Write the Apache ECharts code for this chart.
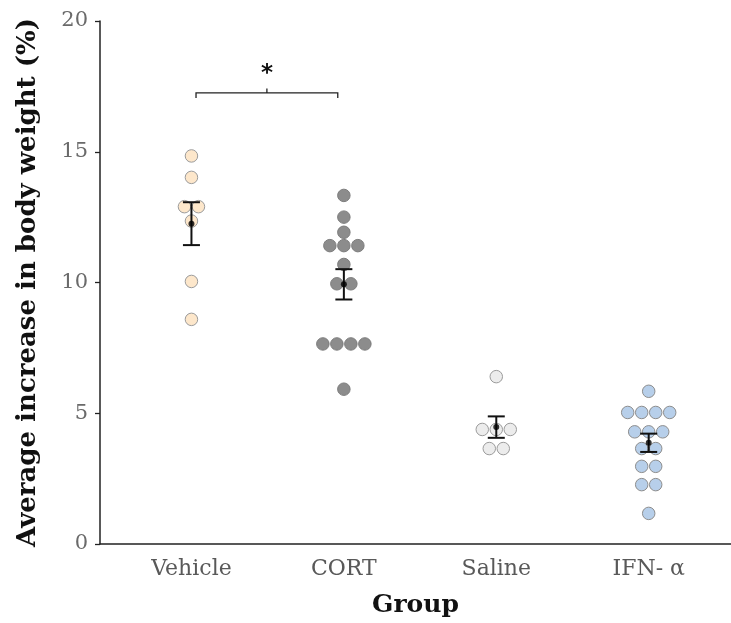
<!DOCTYPE html>
<html>
<head>
<meta charset="utf-8">
<script src="https://cdn.jsdelivr.net/npm/echarts@6/dist/echarts.min.js"></script>
<style>
  html, body { margin: 0; padding: 0; background: #fff; }
  #chart { width: 731px; height: 623px; }
</style>
</head>
<body>
<div id="chart"></div>
<script>
// Groups along the x axis
const groups = ['Vehicle', 'CORT', 'Saline', 'IFN- α'];

// Individual animals: average increase in body weight (%)
const vehicleValues = [14.84, 14.02, 12.9, 12.9, 12.35, 10.04, 8.59];
const cortValues = [13.33, 12.5, 11.92, 11.41, 11.41, 11.41, 10.69, 9.95, 9.95, 7.65, 7.65, 7.65, 7.65, 5.92];
const salineValues = [6.4, 4.38, 4.38, 4.38, 3.65, 3.65];
const ifnValues = [5.84, 5.03, 5.03, 5.03, 5.03, 4.29, 4.29, 4.29, 3.65, 3.65, 2.97, 2.97, 2.27, 2.27, 1.17];

// Group mean and standard error of the mean
const groupMeans = [12.25, 9.93, 4.47, 3.87];
const groupSem = [0.82, 0.58, 0.41, 0.35];

// Significance bracket between Vehicle and CORT
const bracketFrom = 1.03;
const bracketTo = 1.96;
const bracketLevel = 17.25;
const bracketLabel = '*';

const yTicks = [0, 5, 10, 15, 20];

const fillColors = ['#fde7cb', '#8c8c8c', '#ececec', '#b7cfea'];
const edgeColors = ['#9b9b9b', '#7d7d7d', '#9b9b9b', '#8d8d8d'];

const allValues = [vehicleValues, cortValues, salineValues, ifnValues];
const dotGap = 14;   // px between neighbouring dots in a row

// Simple beeswarm: dots with (almost) the same value share a row, centred on the group
function swarm(values, groupPos) {
  const rows = [];
  values.forEach(v => {
    const row = rows.find(r => Math.abs(r.v - v) < 0.1);
    if (row) row.items.push(v); else rows.push({ v: v, items: [v] });
  });
  const out = [];
  rows.forEach(r => {
    const n = r.items.length;
    r.items.forEach((v, i) => {
      out.push({ value: [groupPos, v], symbolOffset: [(i - (n - 1) / 2) * dotGap, 0] });
    });
  });
  return out;
}

const serif = 'DejaVu Serif';

const pointSeries = allValues.map((vals, gi) => ({
  type: 'scatter',
  name: groups[gi],
  data: swarm(vals, gi + 1),
  symbol: 'circle',
  symbolSize: 12.5,
  itemStyle: { color: fillColors[gi], borderColor: edgeColors[gi], borderWidth: 1, opacity: 1 },
  z: 2,
  silent: true
}));

const errorSeries = {
  type: 'custom',
  data: groupMeans.map((m, i) => [i + 1, m, groupSem[i]]),
  renderItem: function (params, api) {
    const x = api.value(0), m = api.value(1), s = api.value(2);
    const top = api.coord([x, m + s]);
    const bot = api.coord([x, m - s]);
    const cap = 8.5;
    const style = { stroke: '#111', lineWidth: 2, fill: null };
    return {
      type: 'group',
      children: [
        { type: 'line', shape: { x1: top[0], y1: top[1], x2: bot[0], y2: bot[1] }, style: style },
        { type: 'line', shape: { x1: top[0] - cap, y1: top[1], x2: top[0] + cap, y2: top[1] }, style: style },
        { type: 'line', shape: { x1: bot[0] - cap, y1: bot[1], x2: bot[0] + cap, y2: bot[1] }, style: style }
      ]
    };
  },
  z: 3,
  silent: true
};

const meanSeries = {
  type: 'scatter',
  data: groupMeans.map((m, i) => [i + 1, m]),
  symbol: 'circle',
  symbolSize: 6,
  itemStyle: { color: '#000' },
  z: 4,
  silent: true
};

const bracketSeries = {
  type: 'custom',
  data: [[bracketFrom, bracketTo, bracketLevel]],
  renderItem: function (params, api) {
    const a = api.coord([api.value(0), api.value(2)]);
    const b = api.coord([api.value(1), api.value(2)]);
    const mid = (a[0] + b[0]) / 2;
    const y = a[1];
    const style = { stroke: '#222', lineWidth: 1.3, fill: null };
    return {
      type: 'group',
      children: [
        { type: 'polyline', shape: { points: [[a[0], y + 5], [a[0], y], [b[0], y], [b[0], y + 5]] }, style: style },
        { type: 'line', shape: { x1: mid, y1: y, x2: mid, y2: y - 4.5 }, style: style },
        { type: 'text', x: mid, y: y - 19, style: { text: bracketLabel, fill: '#111', font: 'bold 23px "DejaVu Sans"', align: 'center', verticalAlign: 'middle' } }
      ]
    };
  },
  z: 3,
  silent: true
};

const chart = echarts.init(document.getElementById('chart'), null, { renderer: 'canvas' });
chart.setOption({
  animation: false,
  backgroundColor: '#fff',
  grid: { left: 100, right: 0, top: 21, bottom: 78, containLabel: false },
  xAxis: {
    type: 'value',
    min: 0.4,
    max: 4.54,
    name: 'Group',
    nameLocation: 'middle',
    nameGap: 49,
    nameTextStyle: { fontFamily: serif, fontWeight: 'bold', fontSize: 25, color: '#111' },
    axisLine: { show: true, lineStyle: { color: '#222', width: 1.5 } },
    axisTick: { show: false },
    splitLine: { show: false },
    axisLabel: {
      customValues: [1, 2, 3, 4],
      formatter: v => groups[Math.round(v) - 1],
      fontFamily: serif,
      fontSize: 22,
      color: '#595959',
      margin: 14
    }
  },
  yAxis: {
    type: 'value',
    min: 0,
    max: 20,
    interval: 5,
    name: 'Average increase in body weight (%)',
    nameLocation: 'middle',
    nameGap: 59,
    nameRotate: 90,
    nameTextStyle: { fontFamily: serif, fontWeight: 'bold', fontSize: 26, color: '#111' },
    axisLine: { show: true, lineStyle: { color: '#222', width: 1.5 } },
    axisTick: { show: true, inside: false, length: 5, lineStyle: { color: '#222', width: 1.3 }, customValues: yTicks },
    splitLine: { show: false },
    axisLabel: {
      customValues: yTicks,
      fontFamily: serif,
      fontSize: 21,
      color: '#6a6a6a',
      margin: 12
    }
  },
  series: pointSeries.concat([errorSeries, meanSeries, bracketSeries])
});
</script>
</body>
</html>
